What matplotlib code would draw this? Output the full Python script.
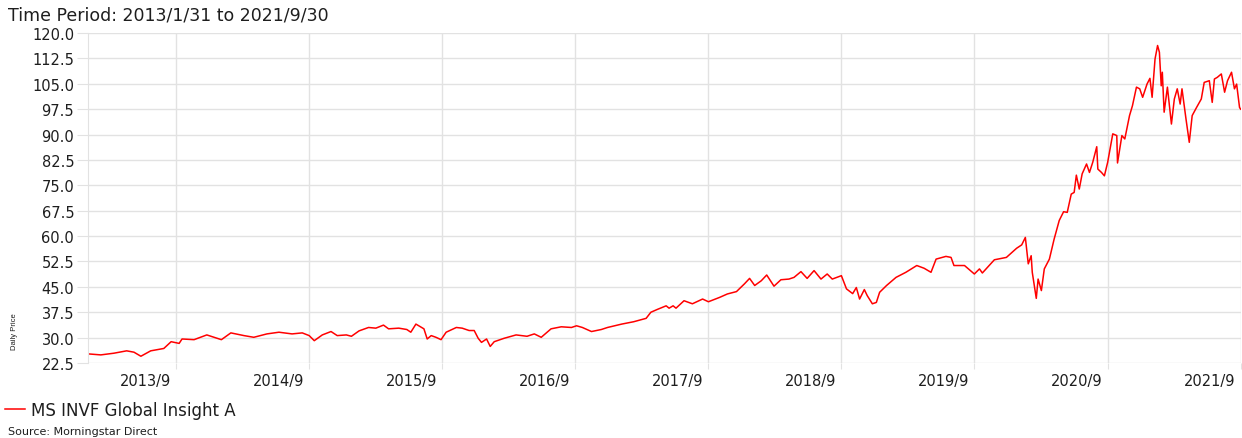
import matplotlib
matplotlib.use("Agg")
import matplotlib.pyplot as plt
import matplotlib.transforms as mtransforms
import pandas as pd

# values (date, daily price)
dates = [
    "2013-01-31", "2013-03-07", "2013-04-12", "2013-05-17", "2013-06-06", "2013-06-25",
    "2013-07-22", "2013-08-27", "2013-09-16", "2013-10-08", "2013-10-16", "2013-11-18",
    "2013-12-23", "2014-02-01", "2014-02-27", "2014-04-04", "2014-05-01", "2014-06-06",
    "2014-07-09", "2014-08-14", "2014-09-11", "2014-09-30", "2014-10-14", "2014-11-05",
    "2014-11-29", "2014-12-16", "2015-01-10", "2015-01-24", "2015-02-14", "2015-03-12",
    "2015-04-01", "2015-04-22", "2015-05-06", "2015-06-03", "2015-06-25", "2015-07-06",
    "2015-07-20", "2015-08-11", "2015-08-20", "2015-08-31", "2015-09-13", "2015-09-27",
    "2015-10-11", "2015-11-08", "2015-11-24", "2015-12-13", "2015-12-27", "2016-01-07",
    "2016-01-16", "2016-01-30", "2016-02-09", "2016-02-20", "2016-03-18", "2016-04-20",
    "2016-05-20", "2016-06-09", "2016-06-28", "2016-07-25", "2016-08-22", "2016-09-19",
    "2016-10-03", "2016-10-19", "2016-11-13", "2016-12-10", "2016-12-27", "2017-02-04",
    "2017-03-09", "2017-04-12", "2017-04-25", "2017-05-12", "2017-06-06", "2017-06-14",
    "2017-06-25", "2017-07-03", "2017-07-25", "2017-08-17", "2017-09-14", "2017-09-30",
    "2017-10-31", "2017-11-21", "2017-12-16", "2018-01-07", "2018-01-21", "2018-02-04",
    "2018-02-22", "2018-03-09", "2018-03-29", "2018-04-17", "2018-05-09", "2018-05-23",
    "2018-06-11", "2018-06-28", "2018-07-17", "2018-08-05", "2018-08-22", "2018-09-05",
    "2018-09-30", "2018-10-14", "2018-10-31", "2018-11-10", "2018-11-19", "2018-12-02",
    "2018-12-10", "2018-12-24", "2019-01-04", "2019-01-13", "2019-02-01", "2019-02-27",
    "2019-03-26", "2019-04-25", "2019-05-15", "2019-06-03", "2019-06-17", "2019-07-14",
    "2019-07-28", "2019-08-05", "2019-09-03", "2019-09-30", "2019-10-14", "2019-10-22",
    "2019-11-24", "2019-12-27", "2020-01-24", "2020-02-07", "2020-02-17", "2020-02-25",
    "2020-03-04", "2020-03-07", "2020-03-18", "2020-03-23", "2020-04-01", "2020-04-09",
    "2020-04-23", "2020-05-06", "2020-05-20", "2020-06-01", "2020-06-11", "2020-06-22",
    "2020-06-30", "2020-07-06", "2020-07-14", "2020-07-22", "2020-08-03", "2020-08-11",
    "2020-08-20", "2020-08-31", "2020-09-03", "2020-09-13", "2020-09-21", "2020-09-30",
    "2020-10-14", "2020-10-25", "2020-10-27", "2020-11-08", "2020-11-16", "2020-11-29",
    "2020-12-07", "2020-12-18", "2020-12-27", "2021-01-04", "2021-01-16", "2021-01-24",
    "2021-01-30", "2021-02-07", "2021-02-14", "2021-02-19", "2021-02-24", "2021-02-27",
    "2021-03-04", "2021-03-13", "2021-03-24", "2021-04-01", "2021-04-09", "2021-04-17",
    "2021-04-22", "2021-05-03", "2021-05-12", "2021-05-20", "2021-06-01", "2021-06-14",
    "2021-06-22", "2021-07-06", "2021-07-14", "2021-07-20", "2021-07-28", "2021-08-08",
    "2021-08-17", "2021-08-25", "2021-09-05", "2021-09-13", "2021-09-19", "2021-09-27",
    "2021-09-30",
]
prices = [
    25.2, 24.9, 25.4, 26.1, 25.7, 24.5,
    26.1, 26.8, 28.8, 28.3, 29.6, 29.4,
    30.8, 29.4, 31.4, 30.6, 30.1, 31.1,
    31.6, 31.1, 31.4, 30.6, 29.1, 30.8,
    31.8, 30.6, 30.8, 30.4, 32.0, 33.0,
    32.8, 33.7, 32.6, 32.8, 32.4, 31.6,
    34.0, 32.6, 29.6, 30.6, 30.1, 29.4,
    31.6, 33.0, 32.8, 32.1, 32.1, 29.8,
    28.6, 29.6, 27.4, 28.8, 29.8, 30.8,
    30.4, 31.1, 30.1, 32.6, 33.2, 33.0,
    33.5, 33.0, 31.8, 32.4, 33.0, 34.0,
    34.7, 35.7, 37.5, 38.3, 39.4, 38.7,
    39.4, 38.7, 40.9, 40.0, 41.4, 40.6,
    41.9, 42.9, 43.6, 45.9, 47.5, 45.4,
    46.8, 48.5, 45.2, 47.1, 47.3, 47.8,
    49.5, 47.5, 49.8, 47.3, 48.8, 47.3,
    48.3, 44.4, 43.0, 44.8, 41.4, 44.2,
    42.4, 40.0, 40.4, 43.4, 45.4, 47.8,
    49.3, 51.3, 50.5, 49.3, 53.2, 54.0,
    53.7, 51.3, 51.3, 48.8, 50.3, 49.1,
    53.0, 53.7, 56.4, 57.4, 59.6, 51.8,
    54.2, 49.3, 41.6, 47.3, 43.9, 50.3,
    53.2, 59.1, 64.6, 67.2, 67.0, 72.4,
    72.9, 78.0, 73.9, 78.4, 81.3, 78.8,
    81.8, 86.4, 79.8, 78.8, 77.8, 81.8,
    90.2, 89.7, 81.6, 89.7, 88.7, 95.6,
    98.5, 104.0, 103.5, 101.0, 104.9, 106.6,
    101.0, 112.3, 116.3, 114.3, 104.4, 108.4,
    96.6, 104.0, 93.1, 100.5, 103.5, 99.0,
    103.5, 94.6, 87.7, 95.6, 98.0, 100.5,
    105.4, 105.9, 99.5, 106.4, 106.9, 107.9,
    102.5, 105.9, 108.4, 103.5, 104.9, 98.0,
    97.5,
]

tick_dates = ["2013-09-30", "2014-09-30", "2015-09-30", "2016-09-30", "2017-09-30",
              "2018-09-30", "2019-09-30", "2020-09-30", "2021-09-30"]
tick_labels = ["2013/9", "2014/9", "2015/9", "2016/9", "2017/9",
               "2018/9", "2019/9", "2020/9", "2021/9"]
y_ticks = [22.5, 30.0, 37.5, 45.0, 52.5, 60.0, 67.5, 75.0, 82.5, 90.0, 97.5, 105.0, 112.5, 120.0]

series_name = "MS INVF Global Insight A"
title = "Time Period: 2013/1/31 to 2021/9/30"
source = "Source: Morningstar Direct"

plt.rcParams["font.family"] = ["DejaVu Sans"]
text_color = "#1e1e1e"
grid_color = "#e2e2e2"

fig = plt.figure(figsize=(12.42, 4.39), dpi=100)
ax = fig.add_axes([0.0709, 0.1708, 0.928, 0.7518])

x = pd.to_datetime(dates)
line, = ax.plot(x, prices, color="#ff0000", lw=1.1, label=series_name)

ax.set_xlim(pd.Timestamp("2013-01-31"), pd.Timestamp("2021-09-30"))
ax.set_ylim(22.5, 120.0)
ax.set_yticks(y_ticks)
ax.set_yticklabels([f"{v:.1f}" for v in y_ticks])
ax.set_xticks(pd.to_datetime(tick_dates))
ax.set_xticklabels(tick_labels)

ax.grid(True, color=grid_color, lw=1.0)
ax.set_axisbelow(True)
for side in ["top", "right", "bottom"]:
    ax.spines[side].set_visible(False)
ax.spines["left"].set_color(grid_color)

ax.tick_params(axis="y", length=8, color=grid_color, labelsize=10.5, labelcolor=text_color, pad=2)
ax.tick_params(axis="x", length=4, color=grid_color, labelsize=10.5, labelcolor=text_color, pad=3)

# year labels sit just left of their gridline
offset = mtransforms.ScaledTranslation(-5 / 100, 0, fig.dpi_scale_trans)
for lab in ax.get_xticklabels():
    lab.set_horizontalalignment("right")
    lab.set_transform(lab.get_transform() + offset)

fig.text(8 / 1242, 1 - 16 / 439, title, fontsize=12.5, color=text_color, va="center", ha="left")
fig.text(14 / 1242, 1 - 332 / 439, "Daily Price", fontsize=5.5, rotation=90,
         color=text_color, va="center", ha="center",
         family=["Liberation Sans Narrow", "Liberation Sans", "DejaVu Sans"])

fig.legend(handles=[line], loc="center left", bbox_to_anchor=(0.0, 1 - 411 / 439),
           frameon=False, fontsize=12, handlelength=1.2, handletextpad=0.35,
           borderaxespad=0, borderpad=0.3, labelcolor=text_color)
fig.text(8 / 1242, 1 - 432 / 439, source, fontsize=8, color=text_color, va="center", ha="left")

fig.savefig("out.png", dpi=100)
